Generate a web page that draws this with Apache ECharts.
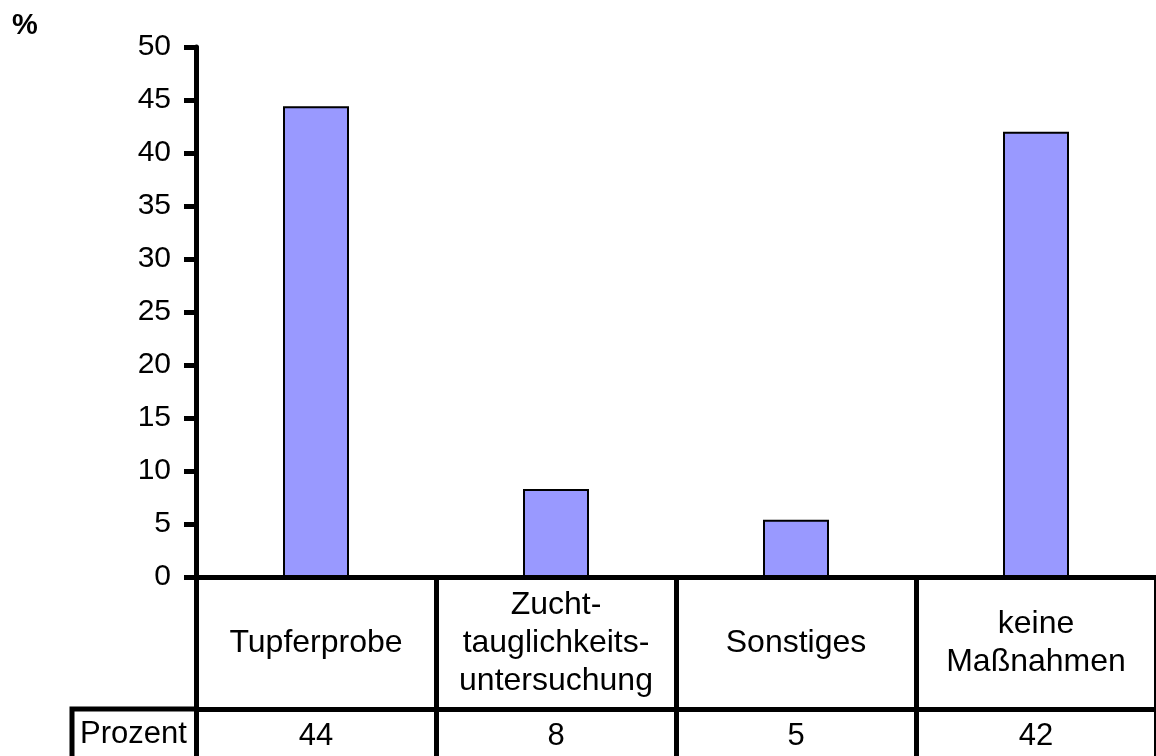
<!DOCTYPE html>
<html>
<head>
<meta charset="utf-8">
<script src="https://cdn.jsdelivr.net/npm/echarts@6/dist/echarts.min.js"></script>
<style>
  html, body { margin: 0; padding: 0; background: #fff; }
  #chart { width: 1156px; height: 756px; }
</style>
</head>
<body>
<div id="chart"></div>
<script>
// Daten
let categories = ['Tupferprobe', 'Zucht-\ntauglichkeits-\nuntersuchung', 'Sonstiges', 'keine\nMaßnahmen']
let prozent = [44.4, 8.3, 5.4, 42.0]
let prozentTabelle = ['44', '8', '5', '42']
let yTicks = [0, 5, 10, 15, 20, 25, 30, 35, 40, 45, 50]

let font = 'Liberation Sans, Arial, sans-serif'

let myChart = echarts.init(document.getElementById('chart'))
let option = {
    animation: false,
    textStyle: { fontFamily: font },
    grid: {
        left: 196,
        top: 47,
        width: 965,
        bottom: 179
    },
    graphic: [
        {
            type: 'text',
            left: 12,
            top: 11,
            style: { text: '%', font: 'bold 29px ' + font, fill: '#000' }
        },
        {
            type: 'polyline',
            shape: { points: [[72, 760], [72, 709], [196, 709]] },
            style: { stroke: '#000', lineWidth: 5, fill: null }
        },
        {
            type: 'text',
            left: 80,
            top: 719,
            style: { text: 'Prozent', font: '31px ' + font, fill: '#000' }
        }
    ],
    xAxis: [
        {
            type: 'category',
            data: categories,
            position: 'bottom',
            axisLine: { lineStyle: { color: '#000', width: 5 } },
            axisTick: { show: true, length: 185, lineStyle: { color: '#000', width: 5 } },
            axisLabel: {
                color: '#000',
                fontSize: 32,
                lineHeight: 38,
                verticalAlign: 'middle',
                margin: 66,
                interval: 0
            }
        },
        {
            type: 'category',
            data: categories,
            position: 'bottom',
            offset: 132,
            axisLine: { lineStyle: { color: '#000', width: 5 } },
            axisTick: { show: false },
            axisLabel: {
                color: '#000',
                fontSize: 31,
                verticalAlign: 'middle',
                margin: 27,
                interval: 0,
                formatter: (v, i) => prozentTabelle[i]
            }
        }
    ],
    yAxis: {
        type: 'value',
        min: yTicks[0],
        max: yTicks[yTicks.length - 1],
        interval: yTicks[1] - yTicks[0],
        splitLine: { show: false },
        axisLine: { show: true, lineStyle: { color: '#000', width: 5 } },
        axisTick: { show: true, length: 12, lineStyle: { color: '#000', width: 5 } },
        axisLabel: { color: '#000', fontSize: 30, margin: 25 }
    },
    series: [{
        type: 'bar',
        data: prozent,
        barWidth: '27.5%',
        itemStyle: { color: '#9999ff', borderColor: '#000', borderWidth: 2 }
    }]
}
myChart.setOption(option)
</script>
</body>
</html>
